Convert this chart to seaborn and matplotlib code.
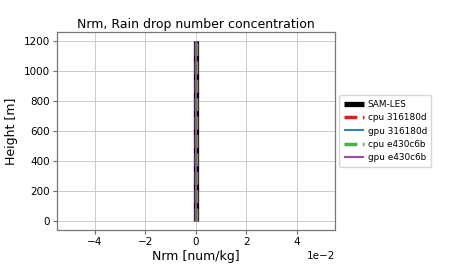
import numpy as np
import pandas as pd
import matplotlib
matplotlib.use("Agg")
import matplotlib.pyplot as plt
import seaborn as sns

heights = [0, 100, 200, 300, 400, 500, 600, 700, 800, 900, 1000, 1100, 1200]
sam_les = [0, 0, 0, 0, 0, 0, 0, 0, 0, 0, 0, 0, 0]
cpu_316180d = [0, 0, 0, 0, 0, 0, 0, 0, 0, 0, 0, 0, 0]
gpu_316180d = [0, 0, 0, 0, 0, 0, 0, 0, 0, 0, 0, 0, 0]
cpu_e430c6b = [0, 0, 0, 0, 0, 0, 0, 0, 0, 0, 0, 0, 0]
gpu_e430c6b = [0, 0, 0, 0, 0, 0, 0, 0, 0, 0, 0, 0, 0]

series = [
    ("SAM-LES", sam_les, "black", "-", 3.8),
    ("cpu 316180d", cpu_316180d, "#e41a1c", "--", 2.5),
    ("gpu 316180d", gpu_316180d, "#377eb8", "-", 1.5),
    ("cpu e430c6b", cpu_e430c6b, "#4daf4a", "--", 2.5),
    ("gpu e430c6b", gpu_e430c6b, "#984ea3", "-", 1.5),
]

plt.rcParams["font.family"] = ["DejaVu Sans"]
plt.rcParams["lines.solid_capstyle"] = "butt"
plt.rcParams["lines.dash_capstyle"] = "butt"

fig = plt.figure(figsize=(4.5, 2.7), dpi=100)
ax = fig.add_axes([0.127, 0.148, 0.617, 0.733])

for name, vals, color, ls, lw in series:
    df = pd.DataFrame({"x": vals, "y": heights})
    sns.lineplot(data=df, x="x", y="y", orient="y", sort=False, ax=ax,
                 color=color, linestyle=ls, linewidth=lw, label=name)

ax.set_xlim(-0.055, 0.055)
ax.set_ylim(-60, 1260)
ax.ticklabel_format(axis="x", style="sci", scilimits=(0, 0))
ax.xaxis.get_offset_text().set_fontsize(7.5)
ax.set_title("Nrm, Rain drop number concentration", fontsize=9, pad=3)
ax.set_xlabel("Nrm [num/kg]", fontsize=9, labelpad=2)
ax.set_ylabel("Height [m]", fontsize=9, labelpad=4)
ax.tick_params(axis="both", labelsize=7.5, length=3, width=0.8, color="#666666", pad=2)
ax.grid(True, color="#cccccc", linewidth=0.7)
ax.set_axisbelow(True)
for s in ax.spines.values():
    s.set_color("#777777")
    s.set_linewidth(0.9)

leg = ax.legend(loc="center left", bbox_to_anchor=(1.0, 0.5), fontsize=6.4,
                frameon=True, handlelength=2.3, handletextpad=0.4,
                borderpad=0.5, labelspacing=0.5)

fig.savefig("out.png", dpi=100)
